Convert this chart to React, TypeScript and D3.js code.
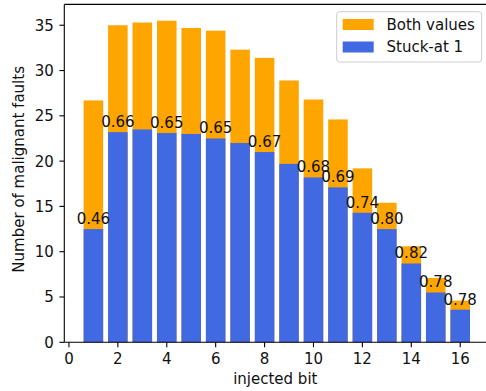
import * as d3 from "d3";

// injected bit positions and counts
const bits = [1, 2, 3, 4, 5, 6, 7, 8, 9, 10, 11, 12, 13, 14, 15, 16];
const bothValues = [26.7, 35.0, 35.3, 35.5, 34.7, 34.4, 32.3, 31.4, 28.9, 26.8, 24.6, 19.2, 15.4, 10.6, 7.1, 4.6];
const stuckAt1 = [12.5, 23.2, 23.5, 23.1, 23.0, 22.5, 22.0, 21.0, 19.7, 18.2, 17.1, 14.3, 12.5, 8.7, 5.5, 3.6];
const ratioLabels = ["0.46", "0.66", "", "0.65", "", "0.65", "", "0.67", "", "0.68", "0.69", "0.74", "0.80", "0.82", "0.78", "0.78"];
const xTicks = [0, 2, 4, 6, 8, 10, 12, 14, 16];
const yTicks = [0, 5, 10, 15, 20, 25, 30, 35];

const ORANGE = "#ffa500";
const BLUE = "#4169e1";
const FONT = "DejaVu Sans, sans-serif";
const FS = 15;

function App() {
  const width = 486;
  const height = 391;

  const x = d3.scaleLinear().domain([-0.19, 17.19]).range([64.3, 489.3]);
  const y = d3.scaleLinear().domain([0, 37.3]).range([342.3, 4.4]);
  const barW = x(0.8) - x(0);

  const left = x.range()[0];
  const right = x.range()[1];
  const top = y.range()[1];
  const bottom = y.range()[0];

  return (
    <div style={{ position: "fixed", left: 0, top: 0 }}>
      <svg width={width} height={height} style={{ display: "block", background: "#fff" }} fontFamily={FONT}>
        <g>
          {bits.map((b, i) => (
            <rect key={"o" + b} x={x(b) - barW / 2} y={y(bothValues[i])} width={barW} height={y(0) - y(bothValues[i])} fill={ORANGE} />
          ))}
          {bits.map((b, i) => (
            <rect key={"b" + b} x={x(b) - barW / 2} y={y(stuckAt1[i])} width={barW} height={y(0) - y(stuckAt1[i])} fill={BLUE} />
          ))}
        </g>
        <g fontSize={FS} fill="#111" textAnchor="middle">
          {bits.map((b, i) =>
            ratioLabels[i] ? (
              <text key={"l" + b} x={x(b)} y={y(stuckAt1[i]) - 5}>
                {ratioLabels[i]}
              </text>
            ) : null
          )}
        </g>

        {/* spines */}
        <g stroke="#000" strokeWidth={1.1} fill="none">
          <line x1={left} x2={left} y1={top} y2={bottom} />
          <line x1={right} x2={right} y1={top} y2={bottom} />
          <line x1={left} x2={right} y1={top} y2={top} />
          <line x1={left} x2={right} y1={bottom} y2={bottom} />
        </g>

        {/* x axis */}
        <g fontSize={FS} textAnchor="middle" fill="#111">
          {xTicks.map((t) => (
            <g key={"xt" + t}>
              <line x1={x(t)} x2={x(t)} y1={bottom} y2={bottom + 4.9} stroke="#000" strokeWidth={1.1} />
              <text x={x(t)} y={364}>{t}</text>
            </g>
          ))}
        </g>
        {/* y axis */}
        <g fontSize={FS} textAnchor="end" fill="#111">
          {yTicks.map((t) => (
            <g key={"yt" + t}>
              <line x1={left - 4.9} x2={left} y1={y(t)} y2={y(t)} stroke="#000" strokeWidth={1.1} />
              <text x={left - 10.5} y={y(t)} dy="0.36em">{t}</text>
            </g>
          ))}
        </g>

        <text x={(left + right) / 2 - 1.5} y={384} fontSize={FS} textAnchor="middle" fill="#111">injected bit</text>
        <text transform={`translate(24,${(top + bottom) / 2 - 4}) rotate(-90)`} fontSize={FS} textAnchor="middle" fill="#111">
          Number of malignant faults
        </text>

        {/* legend */}
        <g>
          <rect x={336.7} y={11.7} width={145} height={50.3} rx={3} fill="#fff" fillOpacity={0.8} stroke="#cccccc" strokeWidth={1} />
          <rect x={342.7} y={19} width={31} height={11} fill={ORANGE} />
          <text x={386.5} y={30} fontSize={FS} fill="#111">Both values</text>
          <rect x={342.7} y={41.5} width={31} height={11} fill={BLUE} />
          <text x={386.5} y={52.3} fontSize={FS} fill="#111">Stuck-at 1</text>
        </g>
      </svg>
    </div>
  );
}

export default App;
